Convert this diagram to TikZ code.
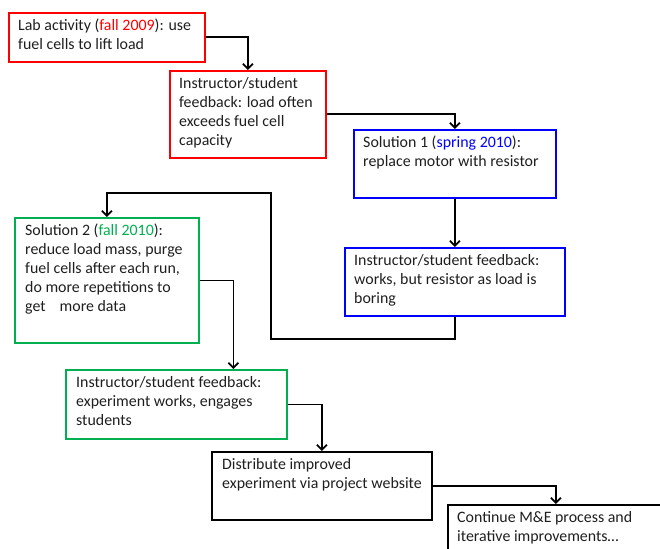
\documentclass[tikz,border=0pt]{standalone}
\usepackage{fontspec}
\setmainfont{Carlito}
\usetikzlibrary{arrows.meta}
\definecolor{boxred}{RGB}{255,0,0}
\definecolor{boxblue}{RGB}{0,0,255}
\definecolor{boxgreen}{RGB}{0,176,80}
\definecolor{ink}{RGB}{30,30,30}

\begin{document}
\begin{tikzpicture}[x=1pt, y=-1pt, >={Straight Barb[length=5pt,width=10pt]},
    card/.style={draw, line width=1.8pt, anchor=north west, inner sep=0pt},
    note/.style={anchor=north west, inner sep=0pt, align=left, text=ink,
        font=\fontsize{15.9}{19}\selectfont, execute at begin node=\rule{0pt}{13pt}},
    flow/.style={->, line width=1.8pt}]
    \clip (0,0) rectangle (660,548);

    % the boxes
    \node[card, boxred, minimum width=196pt, minimum height=49pt] (lab) at (8,12) {};
    \node[card, boxred, minimum width=156pt, minimum height=87pt] (fb1) at (169,70) {};
    \node[card, boxblue, minimum width=202pt, minimum height=68pt] (sol1) at (353,129) {};
    \node[card, boxblue, minimum width=220pt, minimum height=68pt] (fb2) at (344,247) {};
    \node[card, boxgreen, minimum width=184pt, minimum height=125pt] (sol2) at (14,217) {};
    \node[card, boxgreen, minimum width=221pt, minimum height=69pt] (fb3) at (65,369) {};
    \node[card, black, minimum width=220pt, minimum height=68pt] (dist) at (211,451) {};
    \node[card, black, minimum width=216pt, minimum height=70pt] (cont) at (447,504) {};

    % the texts
    \node[note] (lab-t) at ([shift={(10,7)}]lab.north west)
        {Lab activity ({\color{boxred}fall 2009}): use\\fuel cells to lift load};
    \node[note] (fb1-t) at ([shift={(10,7)}]fb1.north west)
        {Instructor/student\\feedback: load often\\exceeds fuel cell\\capacity};
    \node[note] (sol1-t) at ([shift={(10,7)}]sol1.north west)
        {Solution 1 ({\color{boxblue}spring 2010}):\\replace motor with resistor};
    \node[note] (fb2-t) at ([shift={(10,7)}]fb2.north west)
        {Instructor/student feedback:\\works, but resistor as load is\\boring};
    \node[note] (sol2-t) at ([shift={(11,7)}]sol2.north west)
        {Solution 2 ({\color{boxgreen}fall 2010}):\\reduce load mass, purge\\fuel cells after each run,\\do more repetitions to\\get\hspace{14pt}more data};
    \node[note] (fb3-t) at ([shift={(11,7)}]fb3.north west)
        {Instructor/student feedback:\\experiment works, engages\\students};
    \node[note] (dist-t) at ([shift={(11,7)}]dist.north west)
        {Distribute improved\\experiment via project website};
    \node[note] (cont-t) at ([shift={(10,7)}]cont.north west)
        {Continue M\&E process and\\iterative improvements\ldots};

    % the flow
    \coordinate (back1) at (271,339);
    \coordinate (back2) at (271,193);
    \draw[flow] (lab.east) -| (fb1.north);
    \draw[flow] (fb1.east) -| (sol1.north);
    \draw[flow] (sol1.south) -- (fb2.north);
    \draw[flow] (fb2.south) |- (back1) -- (back2) -| (sol2.north);
    \draw[flow] (sol2.east) -| ([xshift=57pt]fb3.north);
    \draw[flow] (fb3.east) -| (dist.north);
    \draw[flow] (dist.east) -| (cont.north);
\end{tikzpicture}
\end{document}
